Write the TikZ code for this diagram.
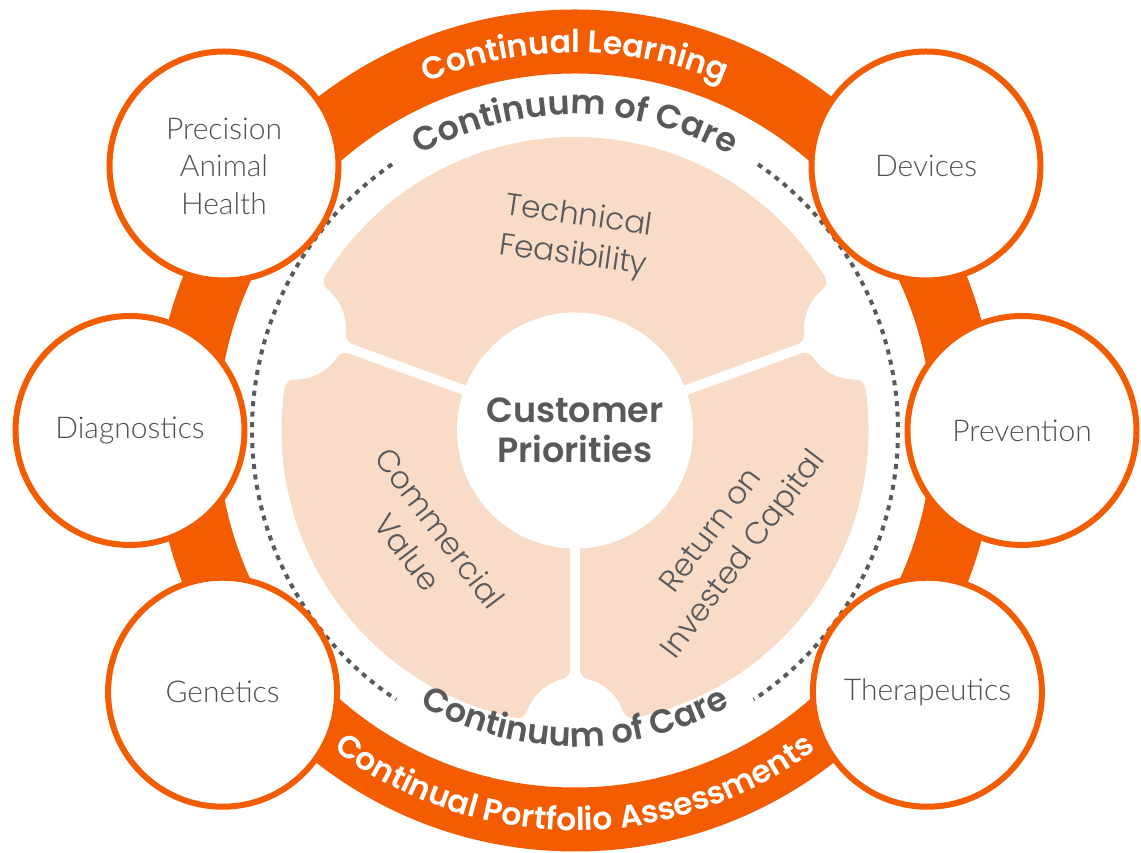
\documentclass[tikz,border=0pt]{standalone}
\usepackage{fontspec}
\usetikzlibrary{calc,decorations.text}
\IfFontExistsTF{Poppins SemiBold}{\newfontfamily\geob{Poppins SemiBold}}{\newfontfamily\geob{Poppins}[FakeBold=1.2]}
\IfFontExistsTF{Poppins Light}{\newfontfamily\geol{Poppins Light}}{\newfontfamily\geol{Poppins}}
\IfFontExistsTF{Lato Light}{\newfontfamily\satf{Lato Light}}{\newfontfamily\satf{Lato}}
\definecolor{corange}{HTML}{F35C00}
\definecolor{peach}{HTML}{F9DCC8}
\definecolor{dgray}{HTML}{58595B}
\definecolor{sgray}{HTML}{505052}
\begin{document}
\begin{tikzpicture}[x=1pt,y=1pt,
  sat/.style={circle, draw=corange, line width=6pt, fill=white, minimum size=229pt, inner sep=0pt,
    font=\satf\fontsize{30}{37.5}\selectfont, text=sgray, align=center},
  seclabel/.style={font=\geol\fontsize{31}{40}\selectfont, text=dgray, align=center, inner sep=0pt},
  dotarc/.style={draw=dgray, line width=4pt, dash pattern=on 5pt off 5.5pt},
  sector/.style={fill=peach, draw=peach, line width=20pt, line join=round}]
\useasboundingbox (0,0) rectangle (1141,853);
\coordinate (C) at (575,422.5);
% outer orange ring
\fill[corange, even odd rule] (C) circle[radius=421] (C) circle[radius=357];
% peach sectors (eroded outline, widened by a round-joined stroke for rounded corners)
\filldraw[sector] ($(C)+(90:16)$) -- ($(C)+(23.593:239.34)$)
  arc[start angle=185.77, end angle=129.53, radius=61]
  arc[start angle=31.70, end angle=148.30, radius=283.5]
  arc[start angle=50.47, end angle=-5.77, radius=61] -- cycle;
\filldraw[sector] ($(C)+(215:18.31)$) -- ($(C)+(163.593:239.34)$)
  arc[start angle=325.77, end angle=269.53, radius=61]
  arc[start angle=171.70, end angle=258.30, radius=283.5]
  arc[start angle=160.47, end angle=104.23, radius=61] -- cycle;
\filldraw[sector] ($(C)+(325:18.31)$) -- ($(C)+(273.593:239.34)$)
  arc[start angle=75.77, end angle=19.53, radius=61]
  arc[start angle=281.70, end angle=368.30, radius=283.5]
  arc[start angle=-89.53, end angle=-145.77, radius=61] -- cycle;
% centre
\node[circle, fill=white, minimum size=236pt, inner sep=0pt,
  font=\geob\fontsize{35}{40}\selectfont, text=dgray, align=center] (cp) at (C) {Customer\\Priorities};
% dotted circle arcs
\draw[dotarc] (C) ++(55.5:323) arc[start angle=55.5, end angle=-56.4, radius=323];
\draw[dotarc] (C) ++(124.5:323) arc[start angle=124.5, end angle=236.4, radius=323];
% arc texts
\path[decorate, decoration={text along path, text align=center, text color=dgray,
  text={|\geob\fontsize{33.5}{40}\selectfont|Continuum of Care}}]
  (C) ++(150:316) arc[start angle=150, end angle=30, radius=316];
\path[decorate, decoration={text along path, text align=center, text color=dgray,
  text={|\geob\fontsize{33.5}{40}\selectfont|Continuum of Care}}]
  (C) ++(210:316) arc[start angle=210, end angle=330, radius=316];
\path[decorate, decoration={text along path, text align=center, text color=white,
  text={|\geob\fontsize{31.5}{38}\selectfont|Continual Learning}}]
  (C) ++(150:378) arc[start angle=150, end angle=30, radius=378];
\path[decorate, decoration={text along path, text align=center, text color=white,
  text={|\geob\fontsize{31.5}{38}\selectfont|Continual Portfolio Assessments}}]
  (C) ++(195:400) arc[start angle=195, end angle=345, radius=400];
% satellite circles
\node[sat] (prec) at ($(C)+(143:439.5)$) {Precision\\Animal\\Health};
\node[sat] (dev)  at ($(C)+(37:439.5)$) {Devices};
\node[sat] (diag) at ($(C)+(180:445)$) {Diagnostics};
\node[sat] (prev) at ($(C)+(0:447)$) {Prevention};
\node[sat] (gen)  at ($(C)+(216.6:439)$) {Genetics};
\node[sat] (ther) at ($(C)+(-36.6:439)$) {Therapeutics};
% sector labels
\node[seclabel, rotate=-8] (tf) at (576,616) {Technical\\Feasibility};
\node[seclabel, rotate=-53] (cv) at (424,313) {Commercial\\Value};
\node[seclabel, rotate=53] (roic) at (729,309) {Return on\\Invested Capital};
\end{tikzpicture}
\end{document}
